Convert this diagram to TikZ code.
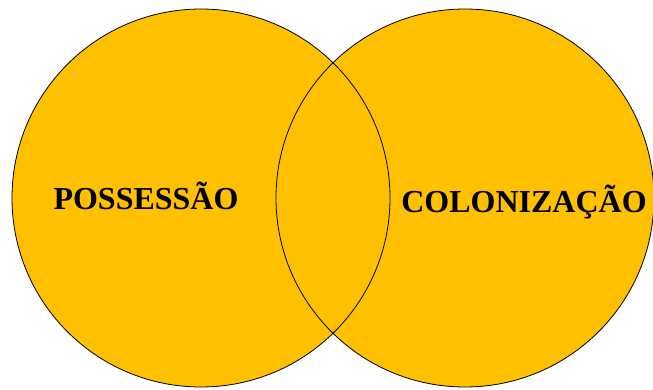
\documentclass[tikz,border=0pt]{standalone}
\usepackage{fontspec}
\setmainfont{Liberation Serif}
\definecolor{gold}{HTML}{FFC000}
\tikzset{
    setname/.style={font=\fontsize{32}{38}\selectfont\bfseries,anchor=base,inner sep=0pt},
}

\begin{document}
\begin{tikzpicture}[x=1pt,y=-1pt]
                \useasboundingbox (0,0) rectangle (653,389);
                \fill[gold] (201,198) circle (189);
                \fill[gold] (465,198) circle (189);
                \draw[black,line width=0.8pt] (201,198) circle (189);
                \draw[black,line width=0.8pt] (465,198) circle (189);

                \node[setname] (posse) at (146,209) {POSSESSÃO};
                \node[setname] (colon) at (524,212) {COLONIZAÇÃO};
\end{tikzpicture}
\end{document}
